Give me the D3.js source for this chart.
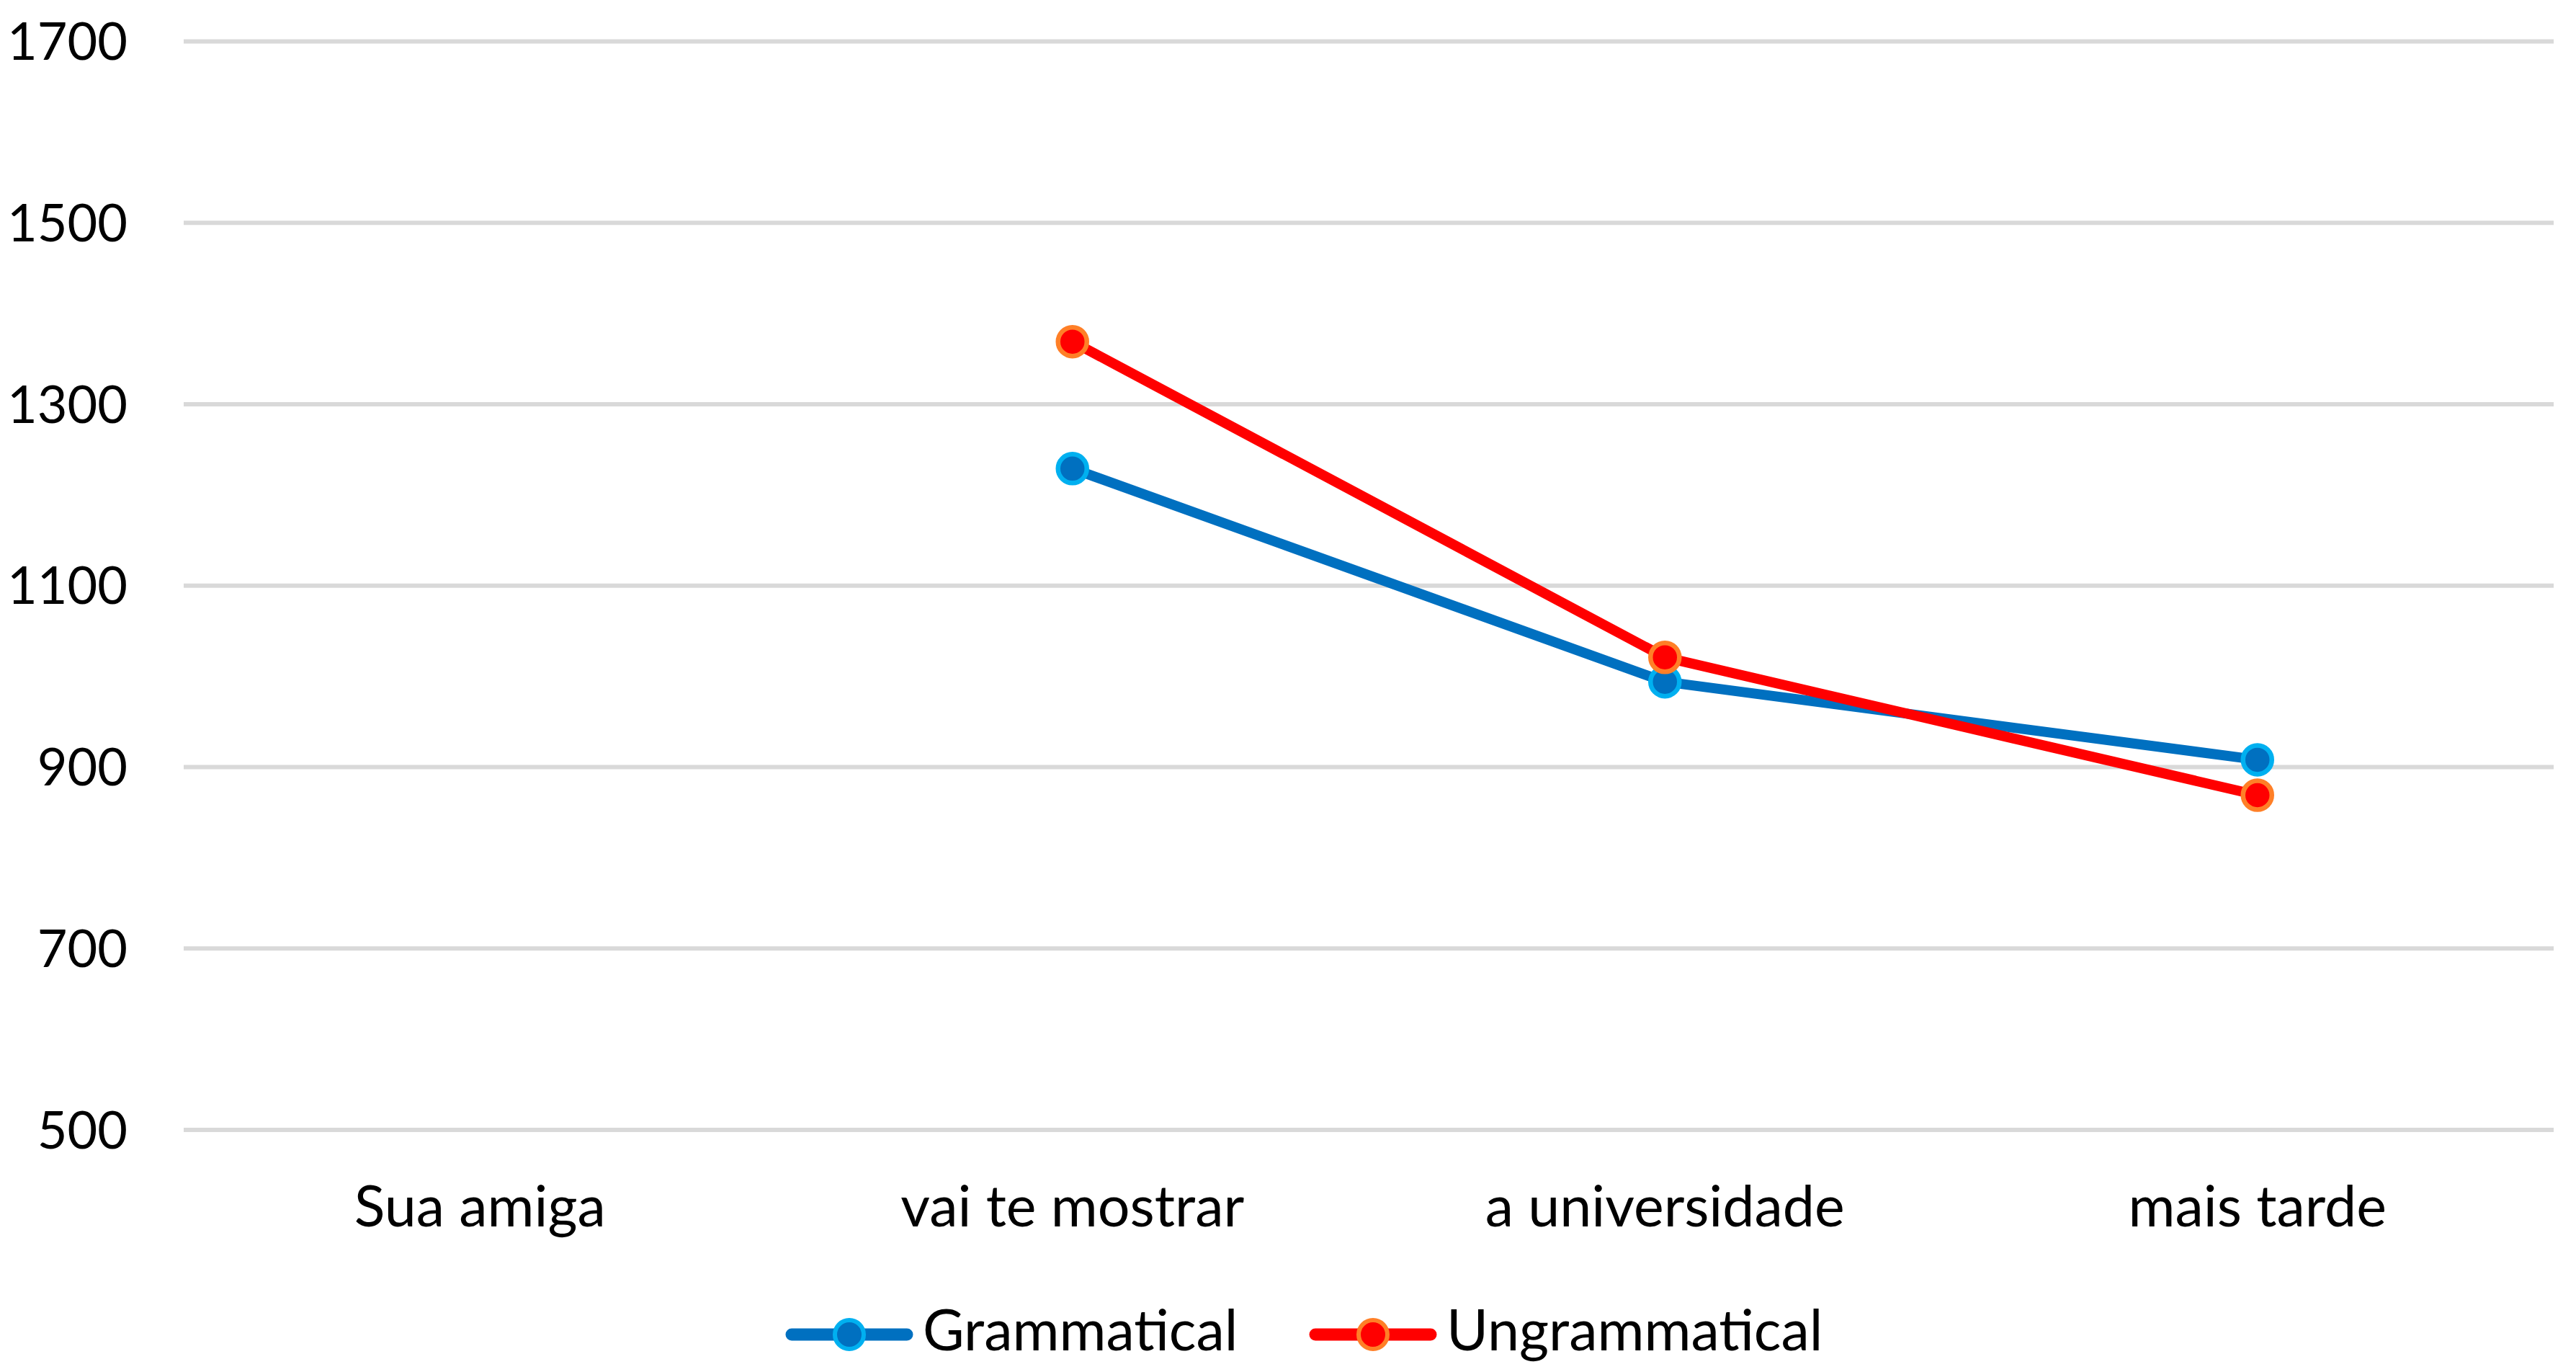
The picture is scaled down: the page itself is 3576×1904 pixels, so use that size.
<!DOCTYPE html>
<html><head><meta charset="utf-8">
<script src="https://cdn.jsdelivr.net/npm/d3@7"></script>
<style>html,body{margin:0;padding:0;background:#fff;}svg{display:block;}</style>
</head><body>
<svg id="chart" width="3576" height="1904"></svg>
<script>
const categories = ["Sua amiga", "vai te mostrar", "a universidade", "mais tarde"];
const grammatical = [null, 1229, 994, 908];
const ungrammatical = [null, 1369, 1021, 869];
const yTicks = [500, 700, 900, 1100, 1300, 1500, 1700];
const seriesNames = ["Grammatical", "Ungrammatical"];

const plotLeft = 255, plotRight = 3545, plotTop = 57.5, plotBottom = 1568;
const FONT = "Lato, 'Open Sans', sans-serif";
const svg = d3.select("#chart");

const x = d3.scaleBand().domain(categories).range([plotLeft, plotRight]).padding(0);
const y = d3.scaleLinear().domain([500, 1700]).range([plotBottom, plotTop]);

// gridlines
svg.append("g").selectAll("line").data(yTicks).join("line")
  .attr("x1", plotLeft).attr("x2", plotRight)
  .attr("y1", d => y(d)).attr("y2", d => y(d))
  .attr("stroke", "#D9D9D9").attr("stroke-width", 6);

// y axis labels
const yAxis = d3.axisLeft(y).tickValues(yTicks).tickFormat(d3.format("d")).tickSize(0).tickPadding(0);
const gy = svg.append("g").attr("transform", `translate(177,0)`).call(yAxis);
gy.select(".domain").remove();
gy.selectAll("text").attr("font-family", FONT).attr("font-size", 72).attr("fill", "#000")
  .attr("dy", 25);

// x axis labels
const xAxis = d3.axisBottom(x).tickSize(0).tickPadding(0);
const gx = svg.append("g").attr("transform", `translate(0,1702)`).call(xAxis);
gx.select(".domain").remove();
gx.selectAll("text").attr("font-family", FONT).attr("font-size", 79).attr("fill", "#000")
  .attr("dy", 0);

const series = [
  {name: seriesNames[0], values: grammatical, line: "#0070C0", fill: "#0070C0", stroke: "#00B0F0"},
  {name: seriesNames[1], values: ungrammatical, line: "#FF0000", fill: "#FF0000", stroke: "#FF7F27"}
];

const lineGen = d3.line()
  .defined(d => d.v != null)
  .x(d => x(d.c) + x.bandwidth() / 2)
  .y(d => y(d.v));

series.forEach(s => {
  const pts = categories.map((c, i) => ({c, v: s.values[i]}));
  svg.append("path").datum(pts)
    .attr("d", lineGen)
    .attr("fill", "none").attr("stroke", s.line).attr("stroke-width", 14)
    .attr("stroke-linejoin", "round").attr("stroke-linecap", "round");
});
series.forEach(s => {
  const pts = categories.map((c, i) => ({c, v: s.values[i]})).filter(d => d.v != null);
  svg.append("g").selectAll("circle").data(pts).join("circle")
    .attr("cx", d => x(d.c) + x.bandwidth() / 2)
    .attr("cy", d => y(d.v))
    .attr("r", 20)
    .attr("fill", s.fill).attr("stroke", s.stroke).attr("stroke-width", 6.5);
});

// legend
const legendY = 1852;
const legendX = [1099, 1826];
series.forEach((s, i) => {
  const g = svg.append("g").attr("transform", `translate(${legendX[i]},${legendY})`);
  g.append("line").attr("x1", 0).attr("x2", 160).attr("y1", 0).attr("y2", 0)
    .attr("stroke", s.line).attr("stroke-width", 17).attr("stroke-linecap", "round");
  g.append("circle").attr("cx", 80).attr("cy", 0).attr("r", 20)
    .attr("fill", s.fill).attr("stroke", s.stroke).attr("stroke-width", 6);
  g.append("text").attr("x", 182).attr("y", 0).attr("dy", 22)
    .attr("font-family", FONT).attr("font-size", 79).attr("fill", "#000")
    .text(s.name);
});
</script>
</body></html>
